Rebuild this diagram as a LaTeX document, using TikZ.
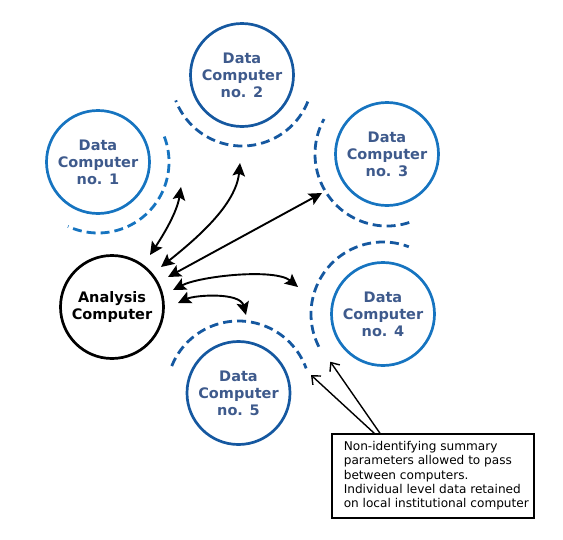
\documentclass[tikz,border=0pt]{standalone}
\usepackage{fontspec}
\setmainfont{DejaVu Sans}
\usetikzlibrary{arrows.meta,calc}
\definecolor{lblue}{HTML}{1674C0}
\definecolor{dblue}{HTML}{1558A0}
\definecolor{tblue}{HTML}{3E5A8C}
\tikzset{
  pc/.style={circle, line width=2.7pt, minimum size=103pt, inner sep=0pt, align=center,
    font=\bfseries\fontsize{14.5}{17}\selectfont},
  datacirc/.style={pc, text=tblue},
  dasharc/.style={line width=2.8pt, dash pattern=on 9pt off 5pt},
  tipS/.tip={Stealth[length=13pt,width=12.5pt,inset=2.5pt]},
  biarrow/.style={line width=1.9pt, tipS-tipS},
  callarrow/.style={line width=1.4pt, -{Straight Barb[length=7pt,width=12pt]}},
  callbox/.style={draw, line width=2pt, minimum width=202.6pt, minimum height=84pt, inner sep=0pt,
    font=\fontsize{12.1}{14.4}\selectfont}
}
\begin{document}
\begin{tikzpicture}[x=1pt,y=-1pt]
\useasboundingbox (0,0) rectangle (563,539);
% computers
\node[datacirc, draw=lblue] (d1) at (98,162) {Data\\Computer\\no. 1};
\node[datacirc, draw=dblue] (d2) at (242,75) {Data\\Computer\\no. 2};
\node[datacirc, draw=lblue] (d3) at (387,154) {Data\\Computer\\no. 3};
\node[datacirc, draw=lblue] (d4) at (383,314) {Data\\Computer\\no. 4};
\node[datacirc, draw=dblue] (d5) at (238.5,393) {Data\\Computer\\no. 5};
\node[pc, draw=black, text=black] (an) at (112,307) {Analysis\\Computer};
% dashed arcs
\draw[dasharc, lblue] ($(d1)+(-21:71)$) arc[start angle=-21, end angle=115, radius=71];
\draw[dasharc, dblue] ($(d2)+(22:71)$) arc[start angle=22, end angle=159, radius=71];
\draw[dasharc, dblue] ($(d3)+(72:72)$) arc[start angle=72, end angle=209, radius=72];
\draw[dasharc, dblue] ($(d4)+(-207:72)$) arc[start angle=-207, end angle=-69, radius=72];
\draw[dasharc, dblue] ($(d5)+(-158:72)$) arc[start angle=-158, end angle=-20, radius=72];
% arrow end points
\coordinate (a1) at (150,255); \coordinate (t1) at (181,187);
\coordinate (a2) at (161,267); \coordinate (t2) at (240,163);
\coordinate (a3) at (168,277); \coordinate (t3) at (322,193);
\coordinate (a4) at (173,290); \coordinate (t4) at (298,287);
\coordinate (a5) at (178,303); \coordinate (t5) at (246,315);
\draw[biarrow] (a1) .. controls (164,234) and (177,212) .. (t1);
\draw[biarrow] (a2) .. controls (196,239) and (236,205) .. (t2);
\draw[biarrow] (a3) -- (t3);
\draw[biarrow] (a4) .. controls (200,276) and (275,268) .. (t4);
\draw[biarrow] (a5) .. controls (195,295) and (240,292) .. (t5);
% callout
\node[callbox] (box) at (433,476.3) {\begin{tabular}{@{\hspace{6.6pt}}l@{}}Non-identifying summary\\parameters allowed to pass\\between computers.\\Individual level data retained\\on local institutional computer\end{tabular}};
\coordinate (p4) at (330.3,361.7);
\coordinate (p5) at (311,375);
\draw[callarrow] ([xshift=-53pt]box.north) -- (p4);
\draw[callarrow] ([xshift=-58.7pt]box.north) -- (p5);
\end{tikzpicture}
\end{document}
